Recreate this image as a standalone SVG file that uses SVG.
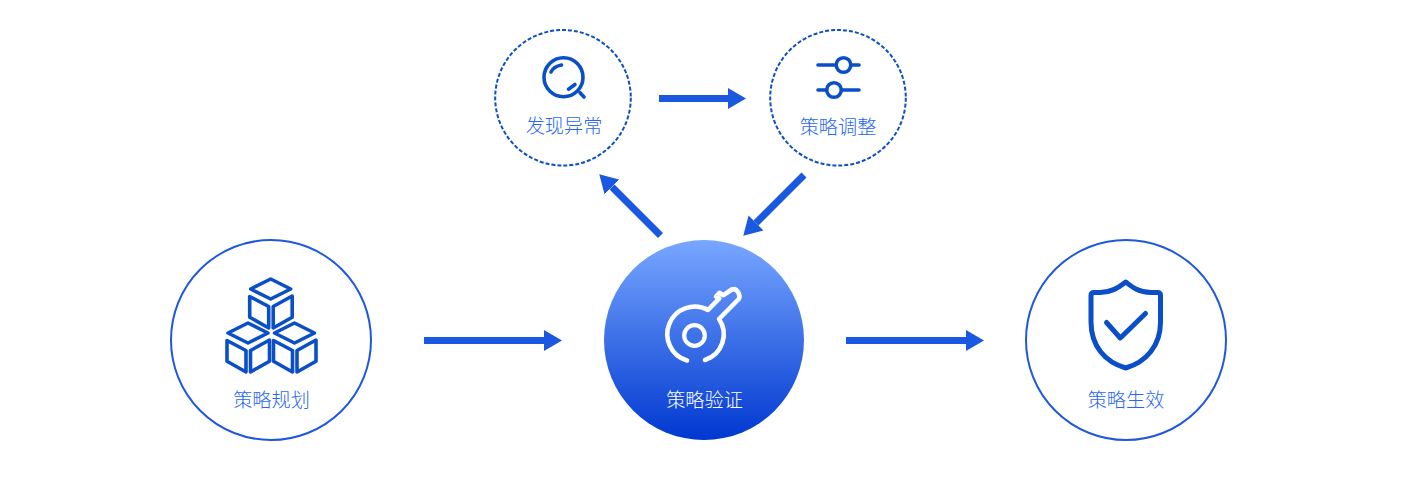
<svg xmlns="http://www.w3.org/2000/svg" width="1408" height="486" viewBox="0 0 1408 486">
<style>
.lbl{font-family:"Noto Sans CJK SC","Noto Sans",sans-serif;font-size:19.200px;font-weight:300;fill:#2a66f4;text-anchor:middle}
.lbl.w{fill:#fff}
.ring{fill:#fff;stroke:#1f58dd;stroke-width:2}
.dash{fill:#fff;stroke:#0f4fbf;stroke-width:2;stroke-dasharray:4 2}
.ic{fill:none;stroke:#0a4fc8;stroke-width:3.600;stroke-linecap:round;stroke-linejoin:round}
.cx{fill:none;stroke:#1b58e0;stroke-width:7}
</style>
<defs>
<linearGradient id="g" x1="0" y1="0" x2="0" y2="1"><stop offset="0" stop-color="#78a7ff"/><stop offset="1" stop-color="#0038d0"/></linearGradient>
<marker id="ah" markerUnits="userSpaceOnUse" markerWidth="18" markerHeight="22" refX="0" refY="11" orient="auto"><path d="M0 .5L18 11L0 21.500z" fill="#1b58e0"/></marker>
<g id="cube"><path d="M0 10L20 0L40 10L20 20z"/><path d="M-1 17.500L18 27.500V49L-1 38.200z"/><path d="M41.500 17L22.500 27.500V49L41.500 38.200z"/></g>
</defs>
<g id="connectors">
<path class="cx" d="M424 340.500H544" marker-end="url(#ah)"/>
<path class="cx" d="M846 340.500H966" marker-end="url(#ah)"/>
<path class="cx" d="M659 98.500H728" marker-end="url(#ah)"/>
<path class="cx" d="M660.500 235.500L612 187" marker-end="url(#ah)"/>
<path class="cx" d="M804 175L756 223" marker-end="url(#ah)"/>
</g>
<g id="node-plan">
<circle class="ring" cx="271" cy="340" r="100"/>
<use href="#cube" class="ic" x="250.700" y="279"/>
<use href="#cube" class="ic" x="228" y="323"/>
<use href="#cube" class="ic" x="274.500" y="323"/>
<text class="lbl" x="271.500" y="407">策略规划</text>
</g>
<g id="node-verify">
<circle cx="704" cy="340" r="100" fill="url(#g)"/>
<circle cx="694.500" cy="335.500" r="10.300" fill="none" stroke="#fff" stroke-width="4.200"/>
<path d="M687 360.500A27.500 27.500 0 1 1 708 310L719.300 298.300L716 296.500L719.500 292.800L723.500 295.200L731.700 289.500Q735.500 288 738 292Q740.500 296 738.800 299L719 319A27 27 0 0 1 705 360" fill="none" stroke="#fff" stroke-width="4.600" stroke-linecap="round" stroke-linejoin="round"/>
<text class="lbl w" x="704.500" y="407">策略验证</text>
</g>
<g id="node-effect">
<circle class="ring" cx="1126" cy="340" r="100"/>
<path d="M1125.700 282C1120 286 1114 292 1100 292.500L1094 292.500Q1091 292.500 1091 295.500L1091 322C1091 346 1105 362 1125.700 368C1146 362 1160.500 346 1160.500 322L1160.500 295.500Q1160.500 292.500 1157.500 292.500L1151 292.500C1137 292 1131 286 1125.700 282Z" class="ic" style="stroke-width:5"/>
<path d="M1106.500 322.500L1120.300 338L1145.500 313.500" class="ic" style="stroke-width:5"/>
<text class="lbl" x="1126" y="407">策略生效</text>
</g>
<g id="node-detect">
<circle class="dash" cx="563" cy="97.800" r="67.800"/>
<circle class="ic" cx="563.500" cy="77.300" r="19.500"/>
<path class="ic" d="M580 92.700L584 97M551 72Q553.500 66.500 561.500 65M568.500 89.300L575 84.500"/>
<text class="lbl" x="564" y="133">发现异常</text>
</g>
<g id="node-adjust">
<circle class="dash" cx="838" cy="97.800" r="67.800"/>
<path class="ic" d="M818 65H836M851 65H859M818 90H826.500M841.500 90H859"/>
<circle class="ic" cx="843.500" cy="65" r="7.300"/>
<circle class="ic" cx="834" cy="90" r="7.300"/>
<text class="lbl" x="838" y="134">策略调整</text>
</g>
</svg>
